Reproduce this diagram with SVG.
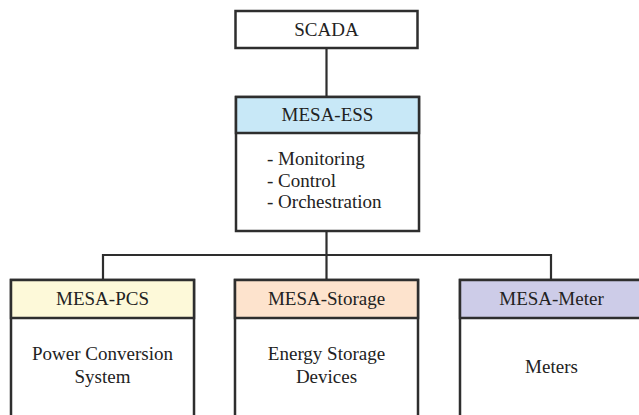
<svg xmlns="http://www.w3.org/2000/svg" width="639" height="415" viewBox="0 0 639 415">
<style>
.box{fill:#ffffff;stroke:#2e2e2e;stroke-width:2.5}
.hd{stroke:#2e2e2e;stroke-width:2.5}
.t{font-family:"Liberation Serif","Times New Roman",serif;font-size:19px;fill:#222}
.c{text-anchor:middle}
.ln{fill:none;stroke:#2e2e2e;stroke-width:2.2}
</style>
<rect width="639" height="415" fill="#ffffff"/>
<g id="connectors">
<line class="ln" x1="326.5" y1="48" x2="326.5" y2="97"/>
<line class="ln" x1="326.5" y1="231" x2="326.5" y2="280"/>
<polyline class="ln" points="103,280 103,255 551,255 551,280"/>
</g>
<g id="scada">
<rect class="box" x="235.5" y="11" width="182" height="37"/>
<text class="t c" x="326.5" y="36">SCADA</text>
</g>
<g id="mesa-ess">
<rect class="box" x="236" y="97" width="183" height="134"/>
<rect class="hd" x="236" y="97" width="183" height="36" fill="#c8e8f7"/>
<text class="t c" x="327.5" y="121">MESA-ESS</text>
<text class="t" x="267" y="165">- Monitoring</text>
<text class="t" x="267" y="187">- Control</text>
<text class="t" x="267" y="208">- Orchestration</text>
</g>
<g id="mesa-pcs">
<rect class="box" x="11" y="280" width="183" height="140"/>
<rect class="hd" x="11" y="280" width="183" height="38" fill="#fdf9d9"/>
<text class="t c" x="102.5" y="305">MESA-PCS</text>
<text class="t c" x="102.5" y="360">Power Conversion</text>
<text class="t c" x="102.5" y="383">System</text>
</g>
<g id="mesa-storage">
<rect class="box" x="235" y="280" width="183" height="140"/>
<rect class="hd" x="235" y="280" width="183" height="38" fill="#fde3cd"/>
<text class="t c" x="326.5" y="305">MESA-Storage</text>
<text class="t c" x="326.5" y="360">Energy Storage</text>
<text class="t c" x="326.5" y="383">Devices</text>
</g>
<g id="mesa-meter">
<rect class="box" x="460" y="280" width="183" height="140"/>
<rect class="hd" x="460" y="280" width="183" height="38" fill="#cdcce8"/>
<text class="t c" x="551.5" y="305">MESA-Meter</text>
<text class="t c" x="551.5" y="373">Meters</text>
</g>
</svg>
